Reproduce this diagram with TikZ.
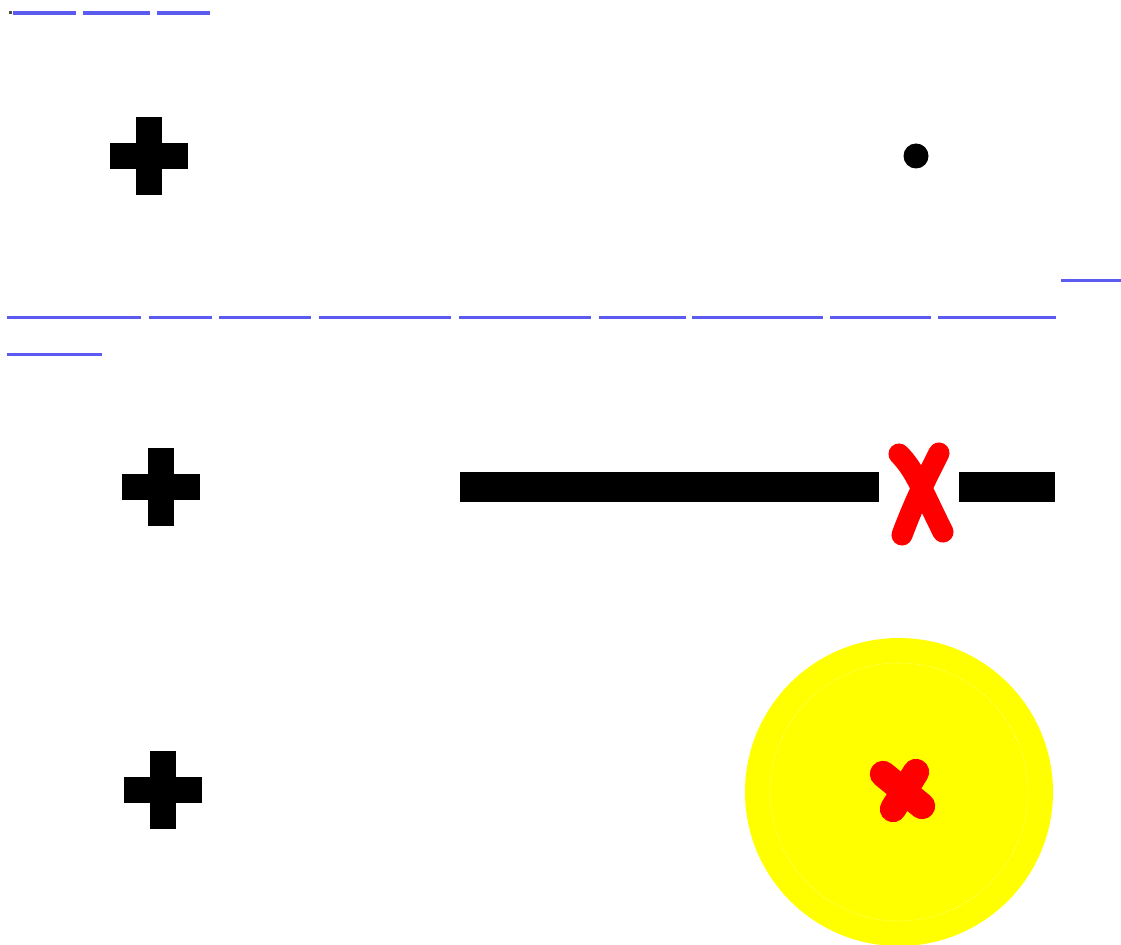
\documentclass[tikz,border=0pt]{standalone}
\definecolor{linkblue}{RGB}{91,91,239}
\definecolor{pureyellow}{RGB}{255,255,0}
\definecolor{palering}{RGB}{255,255,170}
\definecolor{purered}{RGB}{255,0,0}
\begin{document}
\begin{tikzpicture}[x=0.02cm,y=-0.02cm,
  linkcol/.style={fill=linkblue},
  plus/.pic={\fill[black] (-39,-13) rectangle (39,13); \fill[black] (-13,-39) rectangle (13,39);},
  redstroke/.style={draw=purered,line width=12pt,line cap=round}]
\useasboundingbox (0,0) rectangle (1121,945);
\fill[white] (0,0) rectangle (1121,945);
% tiny dot top left
\fill[black!70] (9,11.5) rectangle (11.5,14);
% top links
\foreach \a/\b in {13/76,83/150,157/210}{\fill[linkcol] (\a,11.5) rectangle (\b,15);}
% link row
\fill[linkcol] (1061,279) rectangle (1121,282.5);
\foreach \a/\b in {7/141,149/212,219/311,319/451,459/591,599/686,692/823,830/931,938/1056}{\fill[linkcol] (\a,316) rectangle (\b,319.5);}
\fill[linkcol] (7,353) rectangle (102,356.5);
% crosses
\pic at (149,156.5) {plus};
\pic at (161,487) {plus};
\pic at (163,790) {plus};
% dot
\fill[black] (916,156) circle (12.5);
% bar
\fill[black] (460,472) rectangle (879,502);
\fill[black] (959,472) rectangle (1055,502);
% red X
\draw[redstroke] (899,454) .. controls (915,470) and (922,490) .. (943,532);
\draw[redstroke] (939,453) .. controls (928,475) and (915,500) .. (902,535);
% yellow circle
\fill[pureyellow] (899,792) circle (154);
\draw[palering,line width=0.4pt,densely dotted] (899,792) circle (129);
\draw[redstroke,line width=15pt] (883,774) -- (922,806);
\draw[redstroke,line width=15pt] (916,772) -- (893,809);
\end{tikzpicture}
\end{document}
